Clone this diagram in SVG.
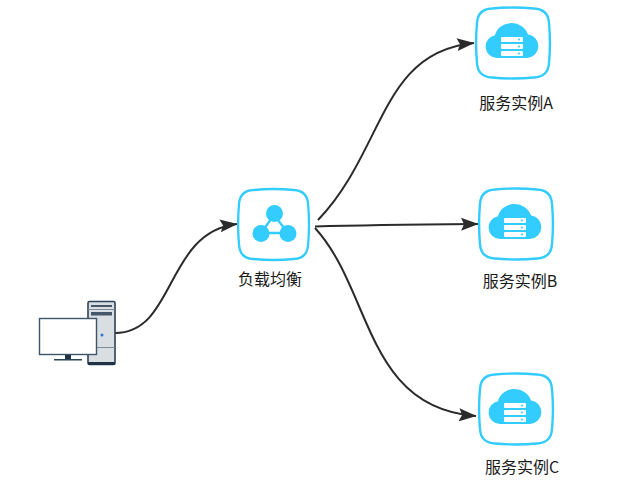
<svg xmlns="http://www.w3.org/2000/svg" xmlns:xlink="http://www.w3.org/1999/xlink" width="637" height="488" viewBox="0 0 637 488">
<style>
.frame{fill:#fff;stroke:#33ccff;stroke-width:2.4}
.glyph{fill:#33ccff}
.label{font-family:"Noto Sans CJK SC","Liberation Sans",sans-serif;font-size:16px;fill:#1a1a1a;text-anchor:middle}
.edge{fill:none;stroke:#2b2b2b;stroke-width:2}
</style>
<defs>
<marker id="arrow" markerUnits="userSpaceOnUse" markerWidth="19" markerHeight="14" refX="17" refY="7" orient="auto">
<path d="M0 .5L17.500 7L0 13.500L3 7Z" fill="#2b2b2b"/>
</marker>
<path id="tile" d="M15 1.500C29 .2 43 .2 57 1.500C67 2 71.500 7 72 16C73.200 29 73.200 43 72 56C71.500 65 67 70 57 70.500C43 71.800 29 71.800 15 70.500C5 70 .5 65 0 56C-1.200 43 -1.200 29 0 16C.5 7 5 2 15 1.500Z"/>
<g id="cloud-server">
<use xlink:href="#tile" href="#tile" class="frame"/>
<path class="glyph" d="M20 51A11.500 11.500 0 0 1 18 28.200A17 15.500 0 0 1 51 27.500A11.800 11.800 0 0 1 50 51Z"/>
<g fill="#fff">
<rect x="24" y="30" width="22" height="5" rx="1"/>
<rect x="24" y="37" width="22" height="5" rx="1"/>
<rect x="24" y="44" width="22" height="5" rx="1"/>
</g>
<g class="glyph">
<circle cx="42" cy="32.500" r="1"/>
<circle cx="42" cy="39.500" r="1"/>
<circle cx="42" cy="46.500" r="1"/>
</g>
</g>
</defs>

<g id="connectors">
<path class="edge" marker-end="url(#arrow)" d="M318 220C385 150 380 52 474 43"/>
<path class="edge" marker-end="url(#arrow)" d="M315 226.500C370 225 425 224.500 478 224"/>
<path class="edge" marker-end="url(#arrow)" d="M315 228C372 290 365 408 476 416"/>
<path class="edge" marker-end="url(#arrow)" d="M115 333C176 333 165 232 237 224"/>
</g>

<g id="client">
<rect x="88" y="301.500" width="27" height="63" rx="1.500" fill="#d9dee3" stroke="#2c4358" stroke-width="1.600"/>
<rect x="88" y="362" width="27" height="3" fill="#1f3347"/>
<path d="M88 309.500H115M88 347.500H115" stroke="#7d8b98" stroke-width="1" fill="none"/>
<rect x="91" y="305" width="21" height="2" fill="#45586b"/>
<rect x="91" y="312" width="21" height="3.500" fill="#45586b"/>
<circle cx="102" cy="335" r="1.500" fill="#2f74d0"/>
<rect x="39.500" y="318.500" width="57" height="36" fill="#fff" stroke="#3f5568" stroke-width="1.400"/>
<rect x="65" y="355" width="6" height="4.500" fill="#1f3347"/>
<rect x="54" y="359" width="28" height="1.500" fill="#2c4358"/>
</g>

<g id="load-balancer">
<use xlink:href="#tile" href="#tile" class="frame" transform="translate(239,188.500)scale(.96,1)"/>
<path d="M274 215L261 233H288Z" fill="none" stroke="#33ccff" stroke-width="2.400"/>
<g class="glyph">
<circle cx="274.500" cy="213.500" r="8.500"/>
<circle cx="261" cy="233.500" r="8.500"/>
<circle cx="288" cy="233.500" r="8.500"/>
</g>
<text class="label" x="270" y="285">负载均衡</text>
</g>

<g id="service-a">
<use xlink:href="#cloud-server" href="#cloud-server" x="477" y="7"/>
<text class="label" x="516" y="109">服务实例A</text>
</g>
<g id="service-b">
<use xlink:href="#cloud-server" href="#cloud-server" x="480" y="188"/>
<text class="label" x="520" y="287">服务实例B</text>
</g>
<g id="service-c">
<use xlink:href="#cloud-server" href="#cloud-server" x="480" y="373"/>
<text class="label" x="522" y="473">服务实例C</text>
</g>
</svg>
